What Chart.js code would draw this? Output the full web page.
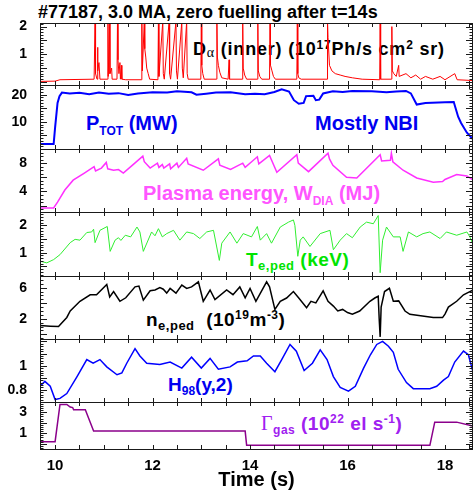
<!DOCTYPE html>
<html>
<head>
<meta charset="utf-8">
<script src="https://cdn.jsdelivr.net/npm/chart.js@4.4.1/dist/chart.umd.min.js"></script>
<style>
  body { margin: 0; background: #fff; }
  #wrap { position: relative; width: 474px; height: 491px; overflow: hidden;
          font-family: "Liberation Sans", Arial, sans-serif; font-weight: bold; }
  canvas { position: absolute; left: 0; }
  .lbl { position: absolute; white-space: nowrap; line-height: 1; }
  .lbl span { position: relative; }
  .sm { font-size: 12px; }
  .serif { font-family: "Liberation Serif", "DejaVu Serif", serif; font-weight: normal; }
</style>
</head>
<body>
<div id="wrap">
  <div class="lbl" style="left:38px;top:3px;font-size:18px;color:#000">#77187, 3.0 MA, zero fuelling after t=14s</div>
  <div class="lbl" style="left:193px;top:40px;font-size:18px;color:#000;letter-spacing:0.8px">D<span class="serif" style="font-size:14px;top:2px">&alpha;</span> (inner) (10<span class="sm" style="top:-6px">17</span>Ph/s cm<span class="sm" style="top:-6px">2</span> sr)</div>
  <div class="lbl" style="left:86px;top:112.5px;font-size:20px;color:#0000f0">P<span class="sm" style="top:5px">TOT</span> (MW)</div>
  <div class="lbl" style="left:315px;top:112.5px;font-size:20px;color:#0000f0">Mostly NBI</div>
  <div class="lbl" style="left:143px;top:183px;font-size:20px;color:#ff55ff">Plasma energy, W<span class="sm" style="top:5px">DIA</span> (MJ)</div>
  <div class="lbl" style="left:246px;top:250px;font-size:19px;color:#00e400;letter-spacing:0.5px">T<span style="font-size:13px;top:4px">e,ped</span> (keV)</div>
  <div class="lbl" style="left:146px;top:310px;font-size:19px;color:#000;letter-spacing:0.5px">n<span style="font-size:13px;top:4px">e,ped</span>&nbsp; (10<span class="sm" style="top:-7px">19</span>m<span class="sm" style="top:-7px">-3</span>)</div>
  <div class="lbl" style="left:168px;top:375px;font-size:19px;color:#0000f0">H<span class="sm" style="top:4px">98</span>(y,2)</div>
  <div class="lbl" style="left:261px;top:413px;font-size:19px;color:#a020f0;letter-spacing:0.5px"><span class="serif" style="font-size:20px">&Gamma;</span><span class="sm" style="top:4px">gas</span> (10<span class="sm" style="top:-7px">22</span> el s<span class="sm" style="top:-7px">-1</span>)</div>
</div>
<script>
// time axis
const xTicks = [10, 12, 14, 16, 18];

// D-alpha (inner), 1e17 Ph/s cm2 sr
const timeDalpha = [9.70, 10.00, 10.10, 10.80, 10.82, 10.83, 10.86, 10.87, 10.88, 10.90, 10.92,
  11.08, 11.085, 11.09, 11.12, 11.125, 11.16, 11.17, 11.27, 11.28, 11.29, 11.31, 11.33, 11.34, 11.36, 11.37, 11.45,
  11.77, 11.78, 11.79, 11.83, 11.84, 11.86, 11.88, 11.91, 11.94,
  12.11, 12.12, 12.13, 12.21, 12.22, 12.24, 12.34, 12.35, 12.37, 12.48, 12.49, 12.51,
  12.60, 12.61, 12.63, 12.70, 12.71, 12.73, 12.99, 13.00, 13.01, 13.03, 13.06,
  13.31, 13.32, 13.33, 13.35, 13.38, 13.42, 13.55, 13.57, 13.58,
  13.84, 13.85, 13.86, 13.89, 13.93, 14.15, 14.16, 14.17, 14.20, 14.24,
  14.40, 14.41, 14.42, 14.45, 14.48, 14.52, 14.96, 14.97, 14.98, 15.00, 15.05,
  15.58, 15.59, 15.60, 15.63, 15.68, 15.75, 15.85, 15.95, 16.10, 16.30,
  16.66, 16.67, 16.68, 16.90, 16.91, 16.92, 16.95, 17.00, 17.05, 17.06,
  17.20, 17.30, 17.40, 17.50, 17.60, 17.75, 17.90, 18.00, 18.20, 18.25, 18.58];
const dalpha = [0.02, 0.03, 0.08, 0.10, 2.2, 0.3, 0.1, 1.25, 0.4, 0.7, 0.1,
  0.1, 2.2, 0.2, 2.2, 0.3, 0.5, 0.1, 0.1, 2.2, 0.8, 0.3, 0.7, 0.1, 0.6, 0.1, 0.08,
  0.08, 2.2, 0.4, 2.2, 1.2, 0.9, 0.5, 0.3, 0.1,
  0.08, 2.2, 0.2, 2.2, 0.3, 0.1, 2.2, 0.3, 0.1, 2.2, 0.4, 0.1,
  2.2, 0.5, 0.15, 2.2, 0.3, 0.1, 0.1, 2.2, 0.6, 0.3, 0.1,
  0.1, 2.2, 0.9, 0.6, 0.35, 0.15, 0.1, 0.8, 0.1,
  0.1, 2.2, 0.5, 0.25, 0.1, 0.1, 2.2, 0.4, 0.2, 0.1,
  0.1, 2.2, 0.6, 0.4, 0.2, 0.1, 0.1, 2.2, 0.3, 0.15, 0.1,
  0.1, 2.2, 1.6, 0.6, 0.4, 0.3, 0.25, 0.2, 0.15, 0.1,
  0.08, 2.2, 0.1, 0.1, 2.0, 0.4, 0.3, 0.2, 0.6, 0.2,
  0.3, 0.15, 0.25, 0.1, 0.2, 0.1, 0.2, 0.08, 0.3, 0.08, 0.05];

// total heating power, MW
const timePtot = [9.70, 9.97, 10.00, 10.05, 10.09, 10.14, 10.3, 10.5, 10.7, 10.9, 11.1, 11.3, 11.5, 11.7,
  12.0, 12.3, 12.5, 12.8, 12.9, 13.1, 13.3, 13.6, 13.9, 14.1, 14.3, 14.5, 14.65, 14.8, 14.9, 15.0,
  15.1, 15.15, 15.3, 15.35, 15.42, 15.5, 15.7, 15.9, 16.1, 16.5, 16.8, 17.0, 17.2, 17.3, 17.42,
  17.6, 18.0, 18.18, 18.27, 18.33, 18.45, 18.58];
const ptot = [1.8, 1.8, 8, 17, 19.5, 20.8, 20.5, 20.7, 20.2, 20.8, 20.4, 20.6, 19.9, 20.5,
  20.9, 20.8, 21.3, 20.9, 20.0, 20.4, 20.8, 20.9, 20.2, 20.4, 20.2, 21.0, 22.0, 21.2, 18.0, 16.7,
  17.0, 19.5, 19.6, 18.0, 18.2, 20.5, 21.3, 21.0, 21.4, 21.3, 20.9, 21.2, 21.4, 20.5, 16.4,
  17.0, 17.2, 17.3, 11.9, 9.6, 6.0, 3.5];

// diamagnetic plasma energy, MJ
const timeWdia = [9.70, 9.97, 10.05, 10.2, 10.37, 10.6, 10.8, 10.83, 10.95, 11.05, 11.08, 11.2, 11.3, 11.4,
  11.6, 11.8, 11.83, 11.95, 12.1, 12.13, 12.2, 12.23, 12.35, 12.37, 12.5, 12.53, 12.7, 12.73,
  13.04, 13.35, 13.38, 13.6, 13.85, 13.9, 14.15, 14.18, 14.4, 14.55, 14.96, 14.99, 15.2,
  15.6, 15.63, 15.7, 15.98, 16.19, 16.67, 16.7, 16.88, 16.9, 16.93, 17.14, 17.42, 17.76,
  17.95, 18.0, 18.24, 18.45, 18.58];
const wdia = [1.66, 1.66, 2.5, 4.2, 5.6, 6.6, 7.5, 6.9, 7.3, 8.1, 7.2, 7.0, 7.1, 6.6,
  7.8, 9.0, 8.2, 7.3, 8.0, 7.4, 7.8, 7.3, 7.9, 7.2, 8.0, 7.4, 8.7, 7.9,
  7.0, 8.6, 7.7, 7.1, 8.0, 7.4, 8.9, 7.9, 9.1, 6.7, 9.2, 8.0, 6.8,
  9.4, 8.6, 7.7, 6.0, 5.9, 9.2, 8.3, 8.4, 9.4, 8.2, 7.0, 5.9, 5.3,
  5.4, 5.7, 6.4, 6.2, 5.6];

// pedestal electron temperature, keV
const timeTe = [9.69, 9.83, 9.97, 10.10, 10.31, 10.41, 10.51, 10.65, 10.75, 10.79, 10.82, 10.92, 11.07, 11.13,
  11.23, 11.30, 11.35, 11.44, 11.55, 11.68, 11.74, 11.81, 11.98, 12.05, 12.12, 12.20, 12.29, 12.43,
  12.56, 12.70, 12.84, 12.97, 13.11, 13.25, 13.37, 13.42, 13.59, 13.73, 13.86, 14.03, 14.15, 14.21,
  14.34, 14.44, 14.62, 14.79, 14.89, 14.92, 14.98, 15.03, 15.09, 15.23, 15.44, 15.64, 15.71, 15.85,
  15.98, 16.10, 16.26, 16.39, 16.53, 16.63, 16.67, 16.72, 16.80, 16.94, 17.08, 17.14, 17.25, 17.42,
  17.55, 17.69, 17.90, 18.03, 18.24, 18.45, 18.51, 18.58];
const tePed = [0.69, 0.63, 0.75, 0.93, 1.37, 1.49, 1.46, 1.74, 1.76, 1.86, 1.37, 1.82, 1.96, 1.05,
  1.46, 1.55, 1.45, 1.64, 1.58, 1.94, 1.76, 1.05, 1.76, 1.62, 1.88, 1.58, 1.70, 1.82,
  1.46, 1.76, 1.70, 1.52, 1.76, 1.82, 0.72, 1.35, 1.76, 1.35, 1.70, 1.58, 1.96, 1.46,
  1.70, 1.35, 1.94, 2.12, 2.20, 2.00, 0.87, 1.46, 1.58, 1.23, 1.70, 1.82, 1.11, 1.46,
  1.70, 1.55, 1.94, 2.12, 2.06, 2.36, 0.27, 1.46, 1.94, 1.58, 1.58, 1.05, 1.76, 1.58,
  1.70, 1.76, 1.52, 1.76, 1.64, 1.76, 1.58, 1.29];

// pedestal electron density, 1e19 m-3
const timeNe = [9.69, 9.90, 10.07, 10.24, 10.31, 10.51, 10.72, 10.85, 11.06, 11.12, 11.20, 11.33, 11.45,
  11.64, 11.72, 11.81, 11.95, 12.05, 12.15, 12.22, 12.29, 12.36, 12.48, 12.60, 12.70, 12.80, 12.94,
  13.04, 13.18, 13.28, 13.52, 13.65, 13.79, 13.90, 14.00, 14.12, 14.34, 14.40, 14.51, 14.62, 14.75,
  14.89, 15.00, 15.16, 15.25, 15.35, 15.50, 15.60, 15.71, 15.80, 15.90, 16.00, 16.10, 16.25, 16.46,
  16.56, 16.63, 16.65, 16.67, 16.69, 16.76, 16.86, 16.94, 17.05, 17.18, 17.28, 17.50, 17.76, 17.95,
  18.00, 18.07, 18.24, 18.38, 18.51, 18.58];
const nePed = [1.12, 1.05, 1.0, 2.17, 3.0, 4.25, 5.08, 5.1, 6.42, 4.8, 5.5, 4.25, 4.7,
  6.1, 6.2, 4.4, 5.6, 5.7, 6.0, 5.8, 5.3, 5.9, 5.3, 6.33, 5.9, 6.1, 6.75,
  4.25, 5.7, 4.46, 5.7, 5.1, 6.1, 4.7, 5.9, 4.25, 6.75, 6.1, 3.2, 4.25, 4.67,
  5.5, 4.67, 3.42, 4.25, 4.04, 5.58, 4.25, 3.63, 3.0, 3.2, 2.8, 2.6, 3.0, 4.25,
  4.67, 4.9, 2.0, -0.33, 3.5, 5.5, 5.92, 4.25, 4.3, 3.0, 2.58, 2.4, 2.17, 2.15,
  2.6, 3.5, 4.25, 5.08, 5.5, 5.7];

// confinement factor H98(y,2)
const timeH98 = [9.69, 9.79, 9.90, 10.00, 10.10, 10.24, 10.45, 10.65, 10.78, 10.92, 11.06, 11.27, 11.37,
  11.47, 11.64, 11.74, 11.88, 12.15, 12.36, 12.60, 12.80, 13.00, 13.18, 13.35, 13.59, 13.74, 13.94,
  14.07, 14.21, 14.34, 14.51, 14.65, 14.82, 14.95, 15.11, 15.28, 15.44, 15.58, 15.71, 15.85, 16.02,
  16.16, 16.33, 16.47, 16.60, 16.72, 16.84, 16.94, 17.04, 17.21, 17.35, 17.69, 17.83, 17.97, 18.07,
  18.20, 18.38, 18.48, 18.58];
const h98 = [0.83, 0.87, 0.83, 0.72, 0.73, 0.77, 0.91, 1.05, 1.02, 1.05, 0.99, 0.925, 0.94,
  1.02, 1.14, 1.08, 1.02, 1.01, 1.03, 0.98, 1.07, 0.98, 1.06, 0.97, 0.99, 1.03, 1.04,
  1.08, 1.08, 1.02, 0.95, 1.05, 1.175, 1.12, 0.96, 1.02, 1.13, 1.05, 0.91, 0.82, 0.79,
  0.83, 0.98, 1.09, 1.175, 1.2, 1.16, 1.11, 0.97, 0.86, 0.81, 0.81, 0.83, 0.88, 0.91,
  1.03, 1.12, 1.09, 0.94];

// gas fuelling rate, 1e22 el/s
const timeGas = [9.69, 10.00, 10.10, 10.24, 10.31, 10.36, 10.38, 10.62, 10.79, 13.90, 13.93, 17.69, 17.79, 18.24, 18.57];
const gas = [0.2, 0.2, 3.75, 3.75, 3.5, 3.45, 3.24, 3.24, 1.21, 1.21, -0.15, -0.15, 2.06, 2.06, 1.7];

// y tick labels per panel
const yLabelsDalpha = [1, 2];
const yLabelsPtot = [10, 20];
const yLabelsWdia = [4, 8];
const yLabelsTe = [1, 2];
const yLabelsNe = [2, 6];
const yLabelsH98 = [0.8, 1];
const yLabelsGas = [1, 3];

const FONT = '"Liberation Sans", Arial, sans-serif';
const WIDTH = 474, PAD = 16, RIGHT = 473;
const xMin = 9.69, xMax = 18.575;
const frameTop = [23, 85, 149, 212, 276, 339, 402];
const frameBot = [85, 149, 212, 276, 339, 402, 449];

const panels = [
  { t: timeDalpha, v: dalpha, color: '#ff0000', width: 1, min: -0.11, max: 2.13, labels: yLabelsDalpha, major: 0.5, minor: 0.1 },
  { t: timePtot, v: ptot, color: '#0000ff', width: 2, min: 0, max: 23.6, labels: yLabelsPtot, major: 5, minor: 1 },
  { t: timeWdia, v: wdia, color: '#ff30ff', width: 1.5, min: 1.1, max: 10, labels: yLabelsWdia, major: 2, minor: 0.5 },
  { t: timeTe, v: tePed, color: '#30ee30', width: 1, min: 0.15, max: 2.49, labels: yLabelsTe, major: 0.5, minor: 0.1 },
  { t: timeNe, v: nePed, color: '#000000', width: 1.5, min: -0.6, max: 7.5, labels: yLabelsNe, major: 2, minor: 0.5 },
  { t: timeH98, v: h98, color: '#0000ff', width: 1.5, min: 0.70, max: 1.22, labels: yLabelsH98, major: 0.1, minor: 0.02 },
  { t: timeGas, v: gas, color: '#8b008b', width: 1.5, min: -0.5, max: 3.98, labels: yLabelsGas, major: 1, minor: 0.2 }
];

function framePlugin(p) {
  return {
    id: 'frame',
    afterDatasetsDraw(chart) {
      const { ctx, chartArea: a, scales: { x, y } } = chart;
      ctx.save();
      ctx.strokeStyle = '#1a1a1a';
      ctx.lineWidth = 1;
      ctx.beginPath();
      for (let k = 20; k <= 37; k++) {
        const px = Math.round(x.getPixelForValue(k / 2)) + 0.5;
        ctx.moveTo(px, a.top); ctx.lineTo(px, a.top + 4);
        ctx.moveTo(px, a.bottom); ctx.lineTo(px, a.bottom - 4);
      }
      for (let k = Math.ceil(p.min / p.minor); k * p.minor <= p.max; k++) {
        const v = k * p.minor;
        const r = v / p.major;
        const len = Math.abs(r - Math.round(r)) < 1e-6 ? 7 : 3.5;
        const py = Math.round(y.getPixelForValue(v)) + 0.5;
        ctx.moveTo(a.left, py); ctx.lineTo(a.left + len, py);
        ctx.moveTo(a.right, py); ctx.lineTo(a.right - len, py);
      }
      ctx.stroke();
      ctx.strokeRect(a.left + 0.5, a.top + 0.5, a.right - a.left - 1, a.bottom - a.top);
      ctx.restore();
    }
  };
}

const wrap = document.getElementById('wrap');
panels.forEach((p, i) => {
  const last = i === panels.length - 1;
  const top = frameTop[i] - PAD;
  const h = last ? 491 - top : frameBot[i] - frameTop[i] + 2 * PAD;
  const cv = document.createElement('canvas');
  cv.width = WIDTH;
  cv.height = h;
  cv.style.top = top + 'px';
  wrap.appendChild(cv);

  new Chart(cv, {
    type: 'line',
    data: {
      datasets: [{
        data: p.t.map((t, k) => ({ x: t, y: p.v[k] })),
        borderColor: p.color,
        borderWidth: p.width,
        pointRadius: 0,
        tension: 0
      }]
    },
    options: {
      responsive: false,
      animation: false,
      events: [],
      layout: { padding: { top: PAD, bottom: last ? 0 : PAD, left: 0, right: WIDTH - RIGHT } },
      plugins: { legend: { display: false }, tooltip: { enabled: false } },
      scales: {
        x: {
          type: 'linear', min: xMin, max: xMax, display: last,
          grid: { display: false }, border: { display: false },
          afterBuildTicks: s => { s.ticks = xTicks.map(v => ({ value: v })); },
          afterFit: s => { if (last) s.height = 491 - frameBot[6]; },
          ticks: { font: { family: FONT, size: 15, weight: 'bold' }, color: '#000', padding: 0, maxRotation: 0, autoSkip: false },
          title: { display: true, text: 'Time (s)', font: { family: FONT, size: 20, weight: 'bold', lineHeight: 1.05 }, color: '#000', padding: { top: 0, bottom: 0 } }
        },
        y: {
          min: p.min, max: p.max,
          grid: { display: false }, border: { display: false },
          afterBuildTicks: s => { s.ticks = p.labels.map(v => ({ value: v })); },
          afterFit: s => { s.width = 40; },
          ticks: { font: { family: FONT, size: 14, weight: 'bold' }, color: '#000', padding: 5, callback: v => String(v) }
        }
      }
    },
    plugins: [framePlugin(p)]
  });
});
</script>
</body>
</html>
